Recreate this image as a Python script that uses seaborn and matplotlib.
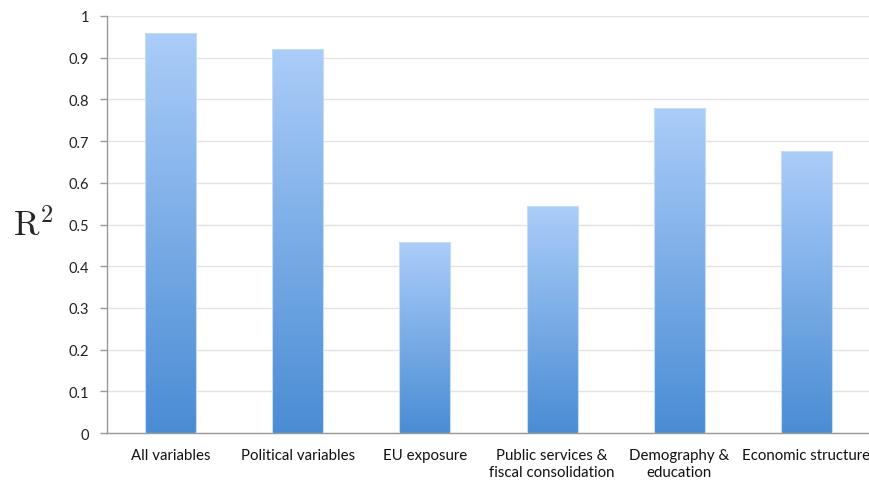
import numpy as np
import pandas as pd
import matplotlib
matplotlib.use("Agg")
import matplotlib.pyplot as plt
import seaborn as sns
from matplotlib.colors import LinearSegmentedColormap

categories = ["All variables", "Political variables", "EU exposure",
              "Public services &\nfiscal consolidation", "Demography &\neducation",
              "Economic structure"]
r2_values = [0.96, 0.92, 0.458, 0.544, 0.78, 0.677]
y_ticks = [0, 0.1, 0.2, 0.3, 0.4, 0.5, 0.6, 0.7, 0.8, 0.9, 1]

sns.set_theme(style="white")
plt.rcParams['font.family'] = ['Lato', 'DejaVu Sans']
plt.rcParams['mathtext.fontset'] = 'cm'

df = pd.DataFrame({"category": categories, "r2": r2_values})

fig = plt.figure(figsize=(8.7, 4.81), dpi=100)
ax = fig.add_axes([107/870, 1-434/481, 1-107/870, (434-17)/481])

sns.barplot(data=df, x="category", y="r2", ax=ax, width=0.40,
            color="#7fb0ea", saturation=1)

cmap = LinearSegmentedColormap.from_list("bg", ["#4a8cd4", "#abcdf9"])
grad = np.linspace(0, 1, 256).reshape(-1, 1)
for p in ax.patches:
    x0, y0 = p.get_x(), p.get_y()
    w, h = p.get_width(), p.get_height()
    im = ax.imshow(grad, cmap=cmap, origin="lower", aspect="auto",
                   extent=[x0, x0 + w, y0, y0 + h], zorder=p.get_zorder())
    im.set_clip_path(p)
    p.set_edgecolor("#c5dcf7")
    p.set_linewidth(0.8)
    p.set_facecolor("none")
    p.set_zorder(3)

ax.set_xlim(-0.5, 5.5)
ax.set_ylim(0, 1)
ax.set_yticks(y_ticks)
ax.set_yticklabels([f"{v:g}" for v in y_ticks])
ax.yaxis.grid(True, color="#e3e3e3", linewidth=1)
ax.set_axisbelow(True)

ax.set_xticks(np.arange(-0.5, 6, 1), minor=True)
ax.tick_params(axis="x", which="major", length=0, pad=11, labelsize=10.8, colors="#111111")
ax.tick_params(axis="x", which="minor", length=5, width=1, color="#999999", direction="out")
ax.tick_params(axis="y", length=5, width=1, color="#999999", direction="out",
               labelsize=10.5, labelcolor="#222222", pad=8)
ax.tick_params(axis="both", bottom=True, left=True)
ax.tick_params(axis="x", which="major", bottom=False)
for lbl in ax.get_xticklabels():
    lbl.set_linespacing(1.25)

for s in ["top", "right"]:
    ax.spines[s].set_visible(False)
for s in ["left", "bottom"]:
    ax.spines[s].set_color("#999999")
    ax.spines[s].set_linewidth(1)

ax.set_xlabel("")
ax.set_ylabel("")
fig.text(33/870, 1-225/481, r"$\mathrm{R}^2$", fontsize=25, ha="center", va="center")

fig.savefig("out.png", dpi=100)
